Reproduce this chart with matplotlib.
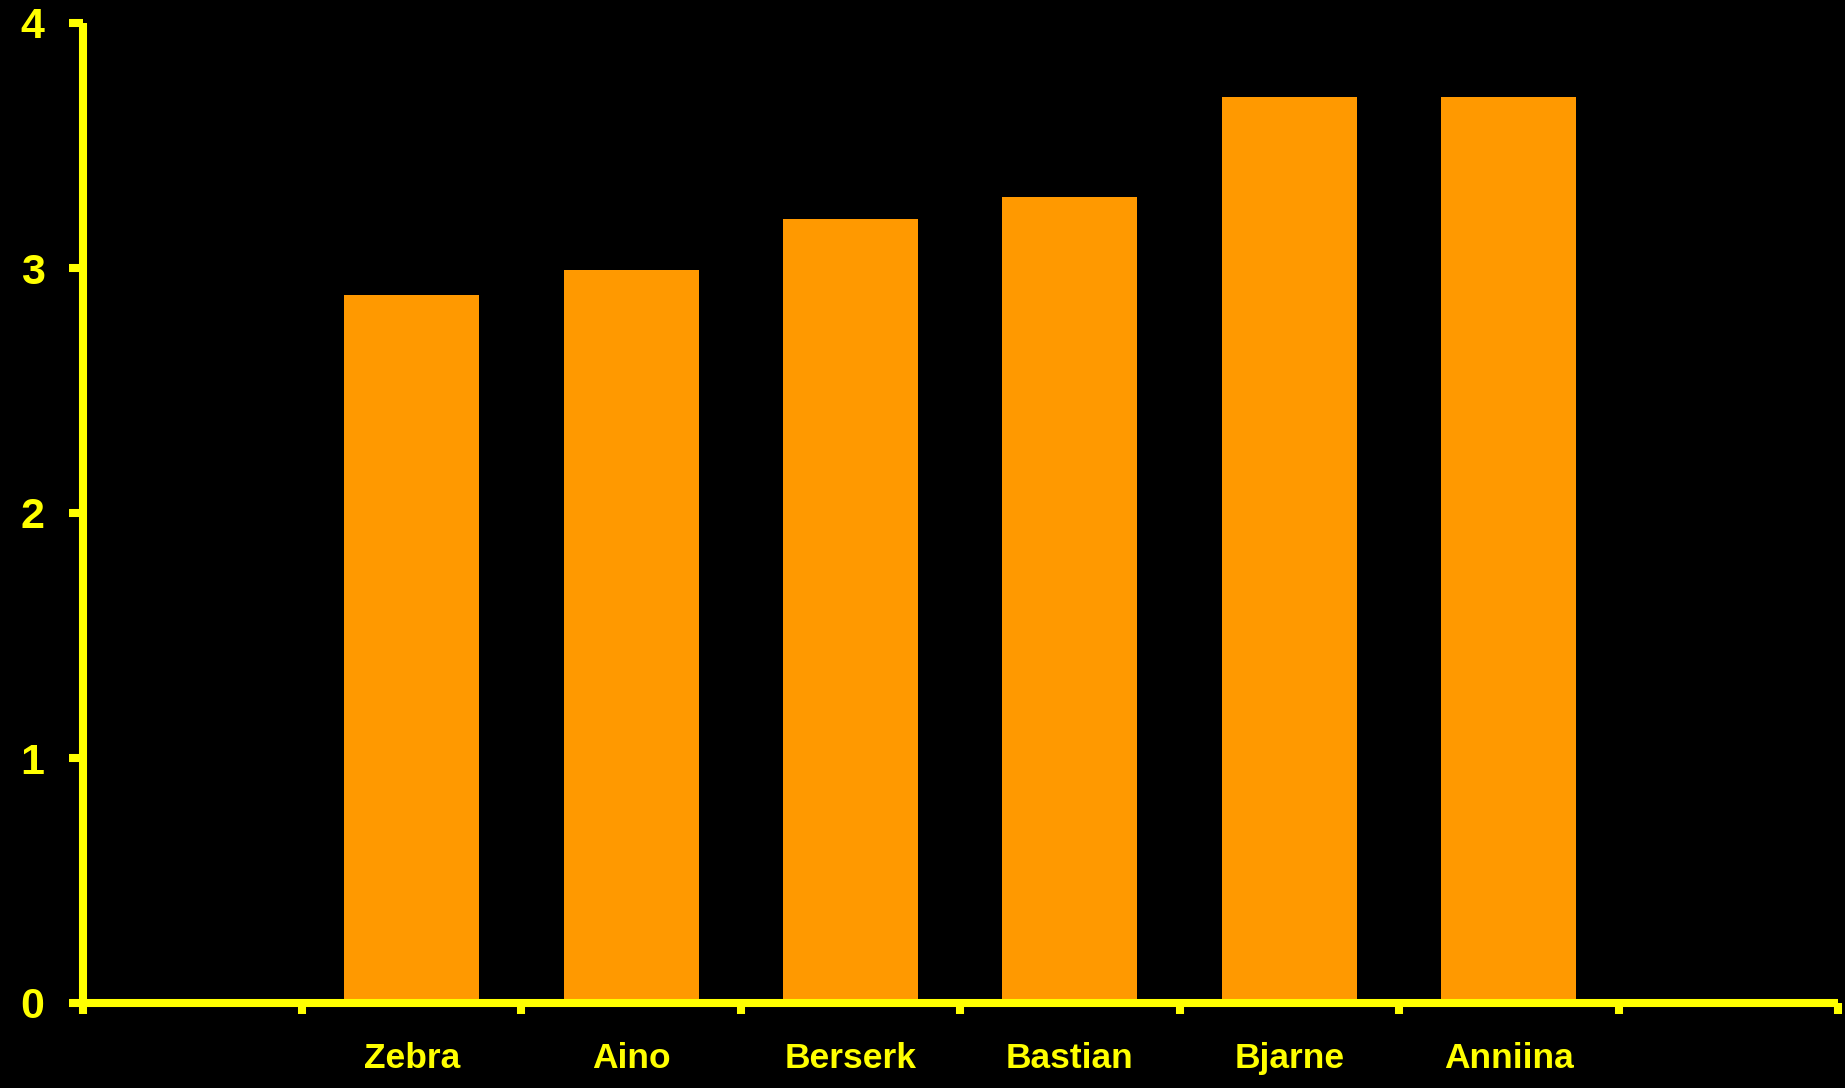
import numpy as np
import matplotlib
matplotlib.use('Agg')
import matplotlib.pyplot as plt

# Data
categories = ['', 'Zebra', 'Aino', 'Berserk', 'Bastian', 'Bjarne', 'Anniina', '']
values = [0, 2.89, 2.99, 3.2, 3.29, 3.7, 3.7, 0]
yticks = [0, 1, 2, 3, 4]

YELLOW = '#FFFF00'
ORANGE = '#FF9900'

plt.rcParams['font.family'] = ['Liberation Sans', 'DejaVu Sans']
plt.rcParams['font.weight'] = 'bold'

fig = plt.figure(figsize=(18.45, 10.88), dpi=100, facecolor='black')
ax = fig.add_axes([82.5 / 1845, 85 / 1088, 1755.5 / 1845, 980 / 1088])
ax.set_facecolor('black')

x = np.arange(len(categories))
ax.bar(x, values, width=0.615, color=ORANGE, linewidth=0, zorder=1)

ax.set_xlim(-0.5, len(categories) - 0.5)
ax.set_ylim(0, 4)

for s in ['top', 'right']:
    ax.spines[s].set_visible(False)
for s in ['left', 'bottom']:
    ax.spines[s].set_color(YELLOW)
    ax.spines[s].set_linewidth(5.8)
    ax.spines[s].set_capstyle('butt')
    ax.spines[s].set_zorder(3)

# y axis
ax.set_yticks(yticks)
ax.set_yticklabels([str(v) for v in yticks])
ax.tick_params(axis='y', colors=YELLOW, length=10.4, width=5.8, pad=17,
               labelsize=31, direction='out')

# x axis: ticks at slot boundaries, labels at centres
ax.set_xticks(np.arange(-0.5, len(categories), 1.0))
ax.set_xticklabels([])
ax.set_xticks(x, minor=True)
ax.set_xticklabels(categories, minor=True)
ax.tick_params(axis='x', which='major', colors=YELLOW, length=7.7, width=5.8,
               direction='out')
ax.tick_params(axis='x', which='minor', colors=YELLOW, length=0, pad=28,
               labelsize=25.5)

for lbl in ax.get_yticklabels() + ax.get_xticklabels(minor=True):
    lbl.set_fontweight('bold')
    lbl.set_color(YELLOW)

for t in ax.xaxis.get_major_ticks() + ax.yaxis.get_major_ticks():
    t.tick1line.set_solid_capstyle('butt')
    t.tick1line.set_clip_on(False)

fig.savefig('out.png', dpi=100, facecolor='black')
